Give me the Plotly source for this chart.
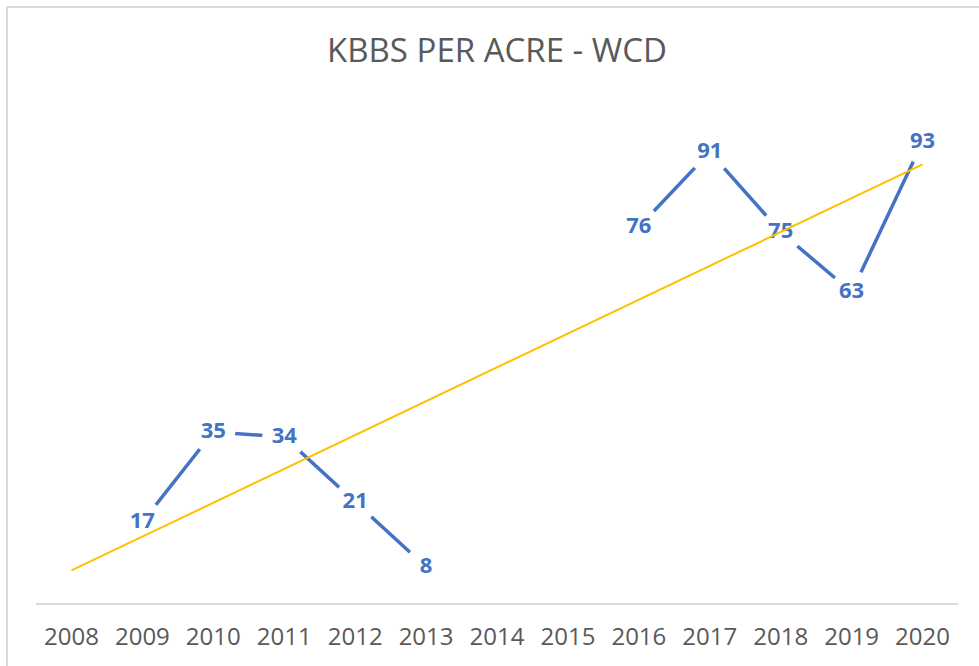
import numpy as np
import plotly.graph_objects as go

years = [2008, 2009, 2010, 2011, 2012, 2013, 2014, 2015, 2016, 2017, 2018, 2019, 2020]
kbbs = [None, 17, 35, 34, 21, 8, None, None, 76, 91, 75, 63, 93]
tick_labels = [str(y) for y in years]

BLUE = "#4472C4"
GOLD = "#FFC000"
GREY_TXT = "#595959"
FONT = "Open Sans"

# linear trendline (least squares on available points), like Excel's trendline
xs = np.array([y for y, v in zip(years, kbbs) if v is not None], dtype=float)
ys = np.array([v for v in kbbs if v is not None], dtype=float)
slope, intercept = np.polyfit(xs, ys, 1)
trend_x = [years[0], years[-1]]
trend_y = [slope * x + intercept for x in trend_x]

fig = go.Figure()

# data line (breaks at missing years)
fig.add_trace(go.Scatter(
    x=years, y=kbbs, mode="lines",
    line=dict(color=BLUE, width=3.5),
    connectgaps=False, hoverinfo="skip", showlegend=False,
))
# white label backgrounds that interrupt the line around each label
fig.add_trace(go.Scatter(
    x=years, y=kbbs, mode="markers",
    marker=dict(symbol="circle", size=44, color="white", line=dict(width=0)),
    hoverinfo="skip", showlegend=False,
))
# data labels
fig.add_trace(go.Scatter(
    x=years, y=kbbs, mode="text",
    text=[("<b>%d</b>" % v) if v is not None else "" for v in kbbs],
    textposition="middle center",
    textfont=dict(family=FONT, size=22, color=BLUE),
    hoverinfo="skip", showlegend=False,
))
# trendline on top
fig.add_trace(go.Scatter(
    x=trend_x, y=trend_y, mode="lines",
    line=dict(color=GOLD, width=2),
    hoverinfo="skip", showlegend=False,
))

fig.update_layout(
    width=979, height=666,
    margin=dict(l=36, r=21, t=103, b=63),
    paper_bgcolor="white", plot_bgcolor="white",
    title=dict(
        text="KBBS PER ACRE - WCD",
        x=497 / 979, xanchor="center",
        y=1 - 50 / 666, yanchor="middle",
        font=dict(family=FONT, size=33, color=GREY_TXT),
    ),
    xaxis=dict(
        range=[2007.5, 2020.5],
        tickmode="array", tickvals=years, ticktext=tick_labels,
        showgrid=False, zeroline=False,
        showline=True, linecolor="#D9D9D9", linewidth=1.5,
        ticks="", ticklabelstandoff=11,
        tickfont=dict(family=FONT, size=24, color=GREY_TXT),
        fixedrange=True,
    ),
    yaxis=dict(
        range=[0.8, 100.8], visible=False, fixedrange=True,
    ),
    shapes=[
        dict(type="line", xref="paper", yref="paper",
             x0=(7 - 36) / 922, x1=(7 - 36) / 922,
             y0=(603 - 7) / 500, y1=(603 - 670) / 500,
             line=dict(color="#D9D9D9", width=2)),
        dict(type="line", xref="paper", yref="paper",
             x0=(7 - 36) / 922, x1=(985 - 36) / 922,
             y0=(603 - 7) / 500, y1=(603 - 7) / 500,
             line=dict(color="#D9D9D9", width=2)),
    ],
)

fig.write_html(
    "out.html",
    config={"displayModeBar": False},
    post_script="document.body.style.margin='0';document.body.style.padding='0';",
)
